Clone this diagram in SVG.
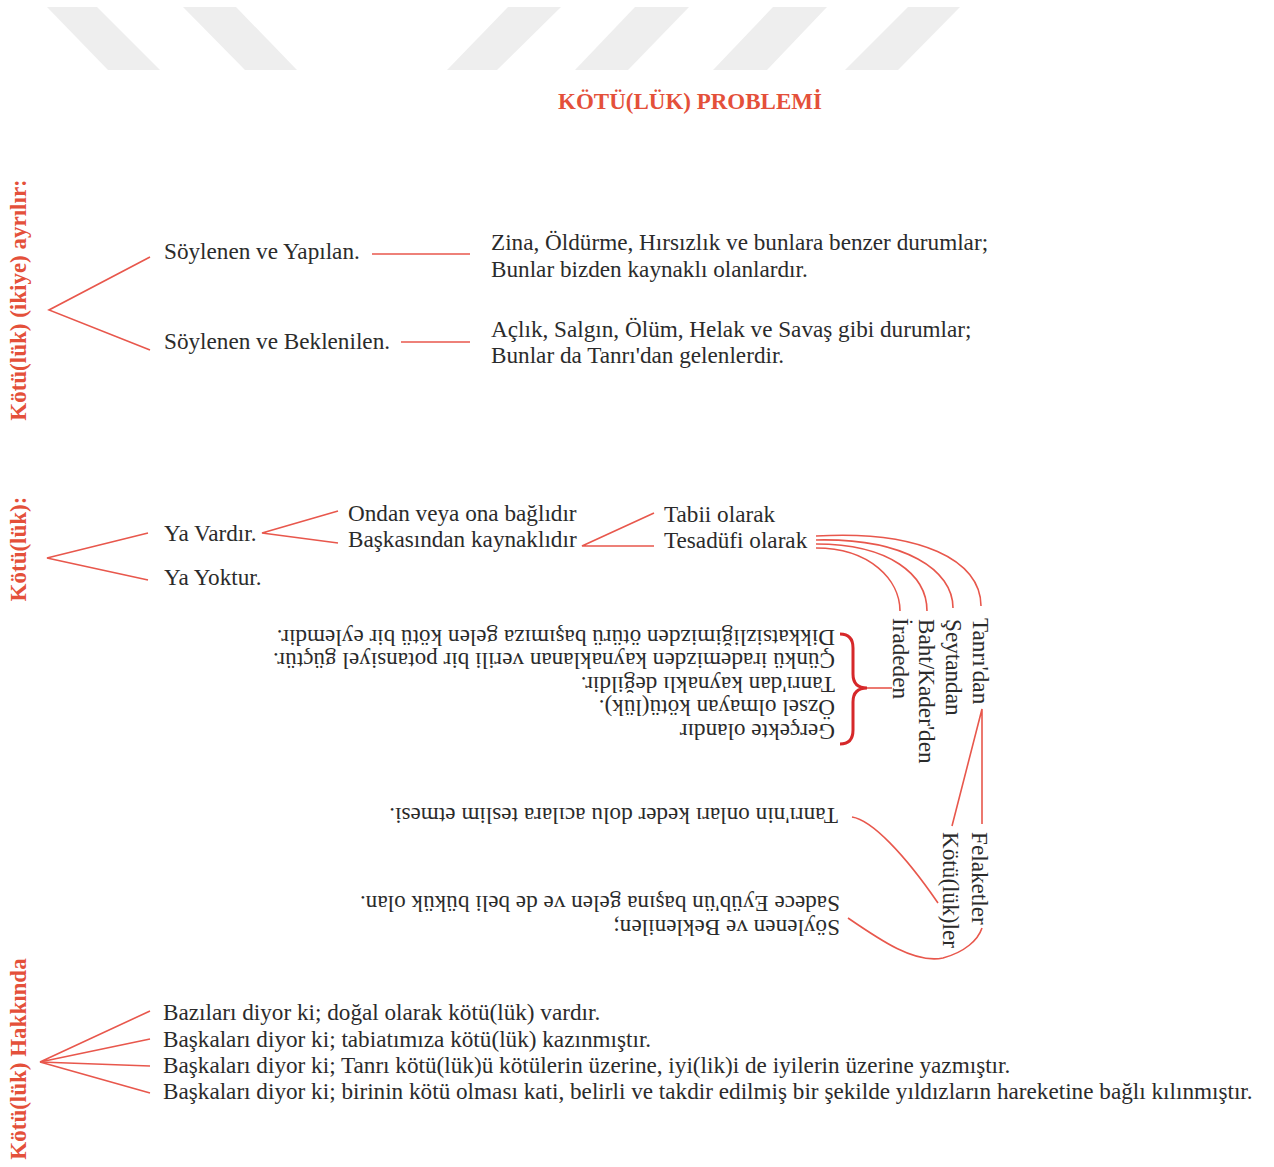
<svg xmlns="http://www.w3.org/2000/svg" width="1274" height="1167" viewBox="0 0 1274 1167">
<style>
.t{font-family:"Liberation Serif","Times New Roman",serif;font-size:23.2px;fill:#2b2b2b}
.lab{font-family:"Liberation Serif","Times New Roman",serif;font-size:23px;font-weight:bold;fill:#e4503a}
.ttl{font-family:"Liberation Serif","Times New Roman",serif;font-size:23px;font-weight:bold;fill:#e4503a}
.c{fill:none;stroke:#e8574c;stroke-width:1.6}
.br{fill:none;stroke:#d6282a;stroke-width:3}
.wm{fill:#eeeeee}
</style>
<rect width="1274" height="1167" fill="#ffffff"/>
<g id="watermark">
<polygon class="wm" points="47,7 97,7 160,70 108,70"/>
<polygon class="wm" points="183,7 236,7 297,70 245,70"/>
<polygon class="wm" points="508,7 561,7 497,70 447,70"/>
<polygon class="wm" points="635,7 689,7 628,70 575,70"/>
<polygon class="wm" points="773,7 827,7 767,70 713,70"/>
<polygon class="wm" points="908,7 960,7 898,70 845,70"/>
</g>
<g id="title"><text class="ttl" x="690" y="109" text-anchor="middle">KÖTÜ(LÜK) PROBLEMİ</text></g>

<g id="label-ayrilir"><text class="lab" transform="translate(26,300) rotate(-90)" text-anchor="middle">Kötü(lük) (ikiye) ayrılır:</text></g>
<g id="label-kotuluk"><text class="lab" transform="translate(26,549) rotate(-90)" text-anchor="middle">Kötü(lük):</text></g>
<g id="label-hakkinda"><text class="lab" transform="translate(26,1059) rotate(-90)" text-anchor="middle">Kötü(lük) Hakkında</text></g>

<g id="connectors">
<polyline class="c" points="150,257 49,310 150,350"/>
<line class="c" x1="372" y1="254" x2="470" y2="254"/>
<line class="c" x1="401" y1="342" x2="470" y2="342"/>
<polyline class="c" points="148,533 47,558 148,580"/>
<polyline class="c" points="338,511 262,533 338,543"/>
<polyline class="c" points="654,513 582,546 654,546"/>
<path class="c" d="M816,536 C920,530 981,560 981,606"/>
<path class="c" d="M816,540 C905,538 953,570 953,608"/>
<path class="c" d="M816,544 C890,544 927,575 927,611"/>
<path class="c" d="M816,548 C870,548 900,580 900,611"/>
<polyline class="c" points="982,824 982,709 952,826"/>
<path class="c" d="M852,817 C872,820 905,855 938,903"/>
<path class="c" d="M848,918 C880,940 915,964 943,958 C965,952 978,940 982,928"/>
<line class="c" x1="866" y1="688" x2="892" y2="688"/>
<polyline class="c" points="150,1011 40,1062 150,1039"/>
<polyline class="c" points="150,1066 40,1062 150,1093"/>
</g>
<path class="br" d="M840,634 Q853,634 853,648 L853,674 Q853,688 867,688 Q853,688 853,702 L853,730 Q853,744 840,744"/>

<g id="n-yapilan"><text class="t" x="164" y="259">Söylenen ve Yapılan.</text></g>
<g id="n-zina"><text class="t" x="491" y="250">Zina, Öldürme, Hırsızlık ve bunlara benzer durumlar;</text><text class="t" x="491" y="277">Bunlar bizden kaynaklı olanlardır.</text></g>
<g id="n-beklenilen"><text class="t" x="164" y="349">Söylenen ve Beklenilen.</text></g>
<g id="n-aclik"><text class="t" x="491" y="337">Açlık, Salgın, Ölüm, Helak ve Savaş gibi durumlar;</text><text class="t" x="491" y="363">Bunlar da Tanrı'dan gelenlerdir.</text></g>

<g id="n-vardir"><text class="t" x="164" y="541">Ya Vardır.</text></g>
<g id="n-yoktur"><text class="t" x="164" y="585">Ya Yoktur.</text></g>
<g id="n-ondan"><text class="t" x="348" y="521">Ondan veya ona bağlıdır</text></g>
<g id="n-baskasindan"><text class="t" x="348" y="547">Başkasından kaynaklıdır</text></g>
<g id="n-tabii"><text class="t" x="664" y="522">Tabii olarak</text></g>
<g id="n-tesadufi"><text class="t" x="664" y="548">Tesadüfi olarak</text></g>

<g id="n-tanridan"><text class="t" transform="translate(973,618) rotate(90)">Tanrı'dan</text></g>
<g id="n-seytandan"><text class="t" transform="translate(946,619) rotate(90)">Şeytandan</text></g>
<g id="n-baht"><text class="t" transform="translate(919,619) rotate(90)">Baht/Kader'den</text></g>
<g id="n-irade"><text class="t" transform="translate(893,618) rotate(90)">İradeden</text></g>
<g id="n-felaketler"><text class="t" transform="translate(972,832) rotate(90)">Felaketler</text></g>
<g id="n-kotulukler"><text class="t" transform="translate(943,832) rotate(90)">Kötü(lük)ler</text></g>

<g id="n-irade-aciklama">
<text class="t" transform="translate(835,630) rotate(180)">Dikkatsizliğimizden ötürü başımıza gelen kötü bir eylemdir.</text>
<text class="t" transform="translate(835,653) rotate(180)">Çünkü irademizden kaynaklanan verili bir potansiyel güçtür.</text>
<text class="t" transform="translate(835,677) rotate(180)">Tanrı'dan kaynaklı değildir.</text>
<text class="t" transform="translate(835,700) rotate(180)">Özsel olmayan kötü(lük).</text>
<text class="t" transform="translate(835,724) rotate(180)">Gerçekte olandır</text>
</g>
<g id="n-tanrinin"><text class="t" transform="translate(838,808) rotate(180)">Tanrı'nin onları keder dolu acılara teslim etmesi.</text></g>
<g id="n-eyub">
<text class="t" transform="translate(840,896) rotate(180)">Sadece Eyüb'ün başına gelen ve de beli bükük olan.</text>
<text class="t" transform="translate(840,920) rotate(180)">Söylenen ve Beklenilen;</text>
</g>

<g id="n-bazilari"><text class="t" x="163" y="1020">Bazıları diyor ki; doğal olarak kötü(lük) vardır.</text></g>
<g id="n-tabiat"><text class="t" x="163" y="1047">Başkaları diyor ki; tabiatımıza kötü(lük) kazınmıştır.</text></g>
<g id="n-tanri-yazmis"><text class="t" x="163" y="1073">Başkaları diyor ki; Tanrı kötü(lük)ü kötülerin üzerine, iyi(lik)i de iyilerin üzerine yazmıştır.</text></g>
<g id="n-yildiz"><text class="t" x="163" y="1099">Başkaları diyor ki; birinin kötü olması kati, belirli ve takdir edilmiş bir şekilde yıldızların hareketine bağlı kılınmıştır.</text></g>
</svg>
